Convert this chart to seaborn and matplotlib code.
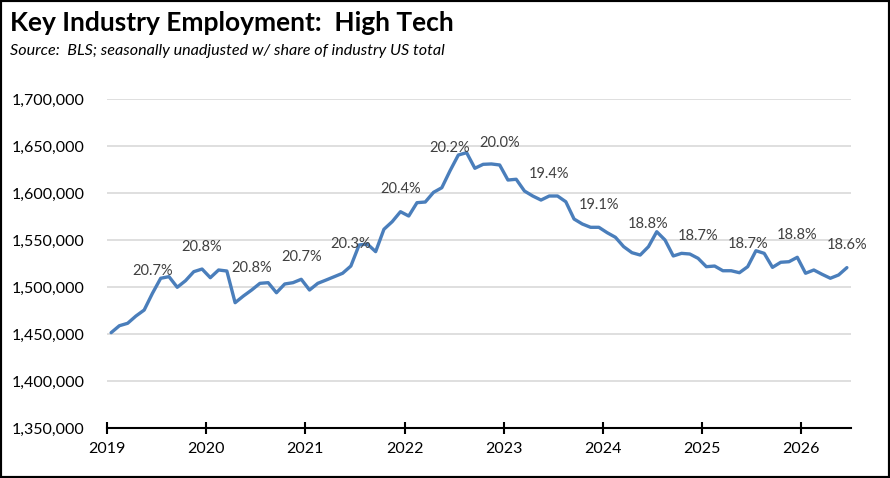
import matplotlib
matplotlib.use('Agg')
import matplotlib.pyplot as plt
import pandas as pd
import seaborn as sns
from matplotlib.ticker import FuncFormatter

# Monthly high tech employment, Jan 2019 - Jun 2026
employment = [
    1451400, 1458800, 1461400, 1469100, 1475500, 1493300, 1509300, 1511000, 1499700, 1506700, 1516300, 1519100,
    1509900, 1518100, 1517000, 1483300, 1490400, 1496800, 1503900, 1504600, 1493900, 1503200, 1504600, 1508200,
    1496800, 1503900, 1507400, 1511000, 1514600, 1522300, 1544700, 1545700, 1537600, 1561400, 1569500, 1580100,
    1575500, 1589700, 1590400, 1600700, 1605600, 1623700, 1640400, 1642900, 1626300, 1630500, 1630900, 1629800,
    1613800, 1614600, 1602100, 1596800, 1592500, 1596800, 1596800, 1590700, 1572300, 1567000, 1563500, 1563500,
    1557800, 1552900, 1542900, 1536500, 1534000, 1542900, 1558800, 1550000, 1533000, 1535800, 1535100, 1530500,
    1521600, 1522300, 1517300, 1517300, 1515200, 1521600, 1538600, 1535800, 1520900, 1526300, 1526900, 1531600,
    1514600, 1518100, 1513500, 1509300, 1512800, 1520600,
]

# share of US industry total, shown every June and December
label_months = ['2019-06', '2019-12', '2020-06', '2020-12', '2021-06', '2021-12', '2022-06', '2022-12',
                '2023-06', '2023-12', '2024-06', '2024-12', '2025-06', '2025-12', '2026-06']
share_labels = ['20.7%', '20.8%', '20.8%', '20.7%', '20.3%', '20.4%', '20.2%', '20.0%',
                '19.4%', '19.1%', '18.8%', '18.7%', '18.7%', '18.8%', '18.6%']

year_ticks = [2019, 2020, 2021, 2022, 2023, 2024, 2025, 2026]

months = pd.date_range('2019-01-01', periods=len(employment), freq='MS')
df = pd.DataFrame({'month': months, 'jobs': employment})
# place each month at its middle, in fractional years
df['pos'] = df['month'].dt.year + (df['month'].dt.month - 0.5) / 12

sns.set_theme(style='white')
plt.rcParams['font.family'] = ['Lato', 'DejaVu Sans']

fig = plt.figure(figsize=(8.9, 4.78), dpi=100)
ax = fig.add_axes([0.1202, 0.1046, 0.8360, 0.6883])

sns.lineplot(data=df, x='pos', y='jobs', ax=ax, color='#4a7ebb', linewidth=2.4)

# data labels above the points
for m, txt in zip(label_months, share_labels):
    row = df[df['month'] == pd.Timestamp(m + '-01')].iloc[0]
    ax.annotate(txt, (row['pos'], row['jobs']), xytext=(0, 16), textcoords='offset points',
                ha='center', va='center', fontsize=10.5, color='#404040')

ax.set_xlim(2019, 2026.5)
ax.set_ylim(1350000, 1700000)
ax.set_xticks(year_ticks)
ax.set_xticklabels([str(y) for y in year_ticks])
ax.set_yticks(range(1350000, 1700001, 50000))
ax.yaxis.set_major_formatter(FuncFormatter(lambda v, p: f'{int(v):,}'))

ax.grid(axis='y', color='#d9d9d9', linewidth=1.2)
ax.grid(axis='x', visible=False)
for s in ['top', 'right', 'left']:
    ax.spines[s].set_visible(False)
ax.spines['bottom'].set_color('black')
ax.spines['bottom'].set_linewidth(1.5)
ax.tick_params(axis='x', direction='inout', length=8, width=1.5, color='black',
               labelsize=11.5, labelcolor='black', pad=6, bottom=True)
ax.tick_params(axis='y', length=0, labelsize=11.5, labelcolor='black', pad=16)
ax.set_xlabel('')
ax.set_ylabel('')

fig.text(0.011, 0.935, 'Key Industry Employment:  High Tech', fontsize=19, fontweight='bold',
         color='black', ha='left', va='baseline')
fig.text(0.011, 0.885, 'Source:  BLS; seasonally unadjusted w/ share of industry US total',
         fontsize=11.6, style='italic', color='black', ha='left', va='baseline')

fig.add_artist(plt.Rectangle((0, 0), 1, 1, transform=fig.transFigure, fill=False,
                             edgecolor='black', linewidth=3))

fig.savefig('out.png', dpi=100)
